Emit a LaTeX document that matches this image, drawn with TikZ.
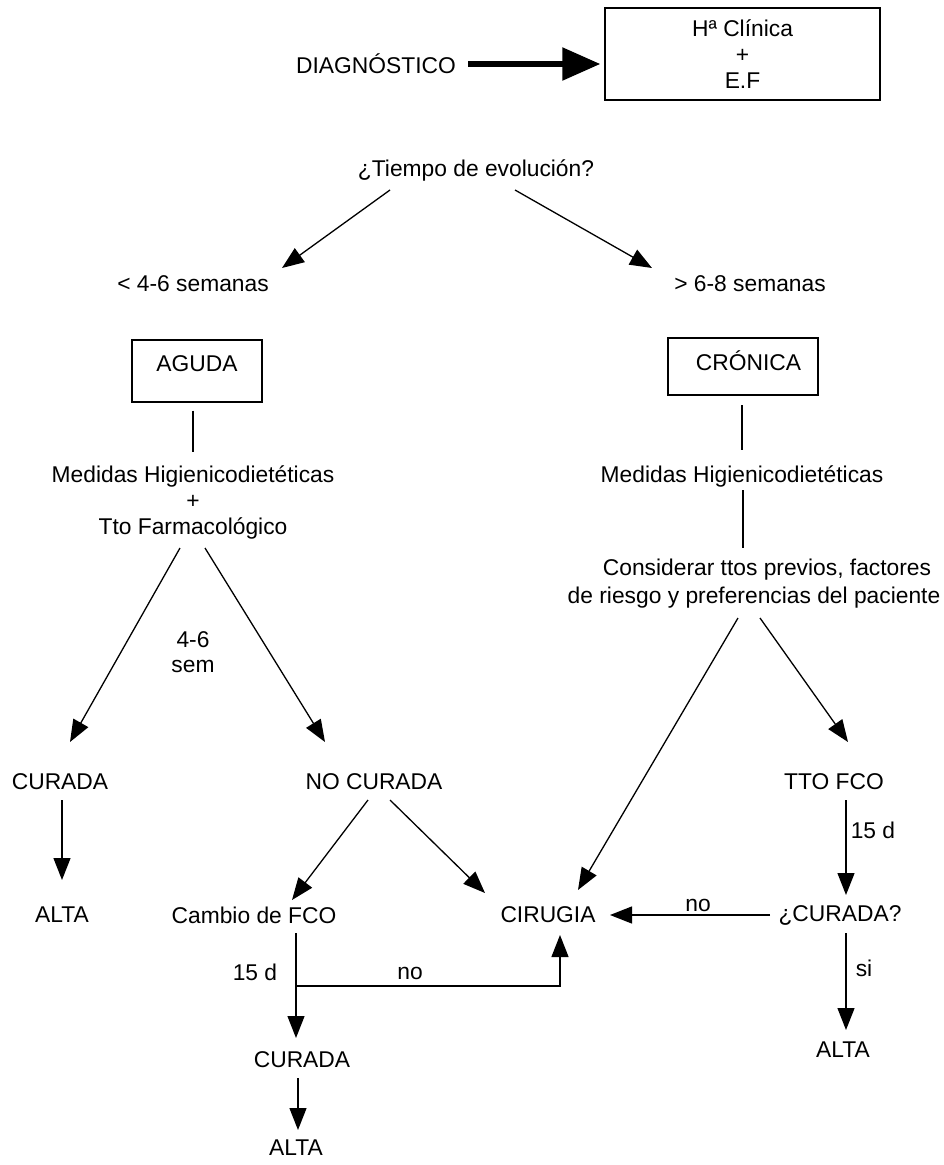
\documentclass[tikz,border=0pt]{standalone}
\usepackage{fontspec}
\setmainfont{Liberation Sans}
\usetikzlibrary{arrows.meta}
\begin{document}
\begin{tikzpicture}[x=1pt,y=-1pt,
  txt/.style={inner sep=0pt, font=\fontsize{22.8}{26}\selectfont, align=center},
  boxed/.style={draw, line width=1.4pt, inner sep=0pt, font=\fontsize{22.8}{26}\selectfont, align=center},
  conn/.style={line width=1.3pt},
  arr/.style={conn, -{Triangle[length=22pt,width=17pt]}},
  bigarr/.style={line width=5.5pt, -{Triangle[length=38pt,width=32pt]}}]
\useasboundingbox (0,0) rectangle (944,1165);
% top
\node[txt] (diag) at (376,64) {DIAGNÓSTICO};
\node[boxed, minimum width=275pt, minimum height=92pt] (hbox) at (742.5,54) {Hª Clínica\\+\\E.F};
\draw[bigarr] ([shift={(92,0)}]diag.center) -- ([shift={(-4,10)}]hbox.west);
\node[txt] (tiempo) at (476,170) {¿Tiempo de evolución?};
\node[txt] (lt) at (193,284) {< 4-6 semanas};
\node[txt] (gt) at (750,284) {> 6-8 semanas};
\draw[arr] ([shift={(-86,20)}]tiempo.center) -- ([shift={(89,-16)}]lt.center);
\draw[arr] ([shift={(39,20)}]tiempo.center) -- ([shift={(-98,-16)}]gt.center);
% left branch
\node[boxed, minimum width=130pt, minimum height=62pt, text height=16pt, text depth=16pt] (aguda) at (197,371) {AGUDA};
\node[txt] (medA) at (193,502) {Medidas Higienicodietéticas\\+\\Tto Farmacológico};
\draw[conn] ([shift={(-4,8)}]aguda.south) -- ([shift={(0,-50)}]medA.center);
\node[txt, font=\fontsize{22.8}{25}\selectfont] (sem) at (193,652) {4-6\\sem};
\node[txt] (curadaA) at (60,782) {CURADA};
\node[txt] (nocurada) at (374,782) {NO CURADA};
\draw[arr] ([shift={(-13,46)}]medA.center) -- ([shift={(10,-40)}]curadaA.center);
\draw[arr] ([shift={(12,46)}]medA.center) -- ([shift={(-49,-40)}]nocurada.center);
\node[txt] (altaA) at (62,915) {ALTA};
\draw[arr] ([shift={(2,18)}]curadaA.center) -- ([shift={(0,-35)}]altaA.center);
\node[txt] (cambio) at (254,915) {Cambio de FCO};
\node[txt] (cirugia) at (548,915) {CIRUGIA};
\draw[arr] ([shift={(-6,18)}]nocurada.center) -- ([shift={(38,-15)}]cambio.center);
\draw[arr] ([shift={(16,18)}]nocurada.center) -- ([shift={(-63,-22)}]cirugia.center);
\node[txt] (curadaB) at (302,1060) {CURADA};
\node[txt] (altaB) at (296,1148) {ALTA};
\draw[arr] ([shift={(42,18)}]cambio.center) -- ([shift={(-6,-22)}]curadaB.center);
\node[txt] (d15a) at (255,972) {15 d};
\draw[arr] ([shift={(42,71)}]cambio.center) -| ([shift={(12,20)}]cirugia.center);
\node[txt] (noA) at (410,973) {no};
\draw[arr] ([shift={(-4,18)}]curadaB.center) -- ([shift={(2,-18)}]altaB.center);
% right branch
\node[boxed, minimum width=150pt, minimum height=57pt, text height=16pt, text depth=9pt] (cronica) at (743,366.5) {\hspace*{11pt}CRÓNICA};
\node[txt] (medC) at (742,476) {Medidas Higienicodietéticas};
\draw[conn] ([shift={(-1,38.5)}]cronica.center) -- ([shift={(0,-26)}]medC.center);
\node[txt, font=\fontsize{22.8}{28}\selectfont] (consid) at (754,584) {\hspace*{26pt}Considerar ttos previos, factores\\de riesgo y preferencias del paciente};
\draw[conn] ([shift={(1,14)}]medC.center) -- ([shift={(-11,-36)}]consid.center);
\node[txt] (tto) at (834,782) {TTO FCO};
\draw[arr] ([shift={(-16,34)}]consid.center) -- ([shift={(30,-25)}]cirugia.center);
\draw[arr] ([shift={(6,34)}]consid.center) -- ([shift={(14,-40)}]tto.center);
\node[txt] (curadaQ) at (840,915) {¿CURADA?};
\draw[arr] ([shift={(12,18)}]tto.center) -- ([shift={(6,-20)}]curadaQ.center);
\node[txt] (d15b) at (873,830) {15 d};
\draw[arr] ([shift={(-70,0)}]curadaQ.center) -- ([shift={(62,0)}]cirugia.center);
\node[txt] (noB) at (698,905) {no};
\node[txt] (altaC) at (843,1050) {ALTA};
\draw[arr] ([shift={(6,18)}]curadaQ.center) -- ([shift={(3,-20)}]altaC.center);
\node[txt] (si) at (864,968) {si};
\end{tikzpicture}
\end{document}
